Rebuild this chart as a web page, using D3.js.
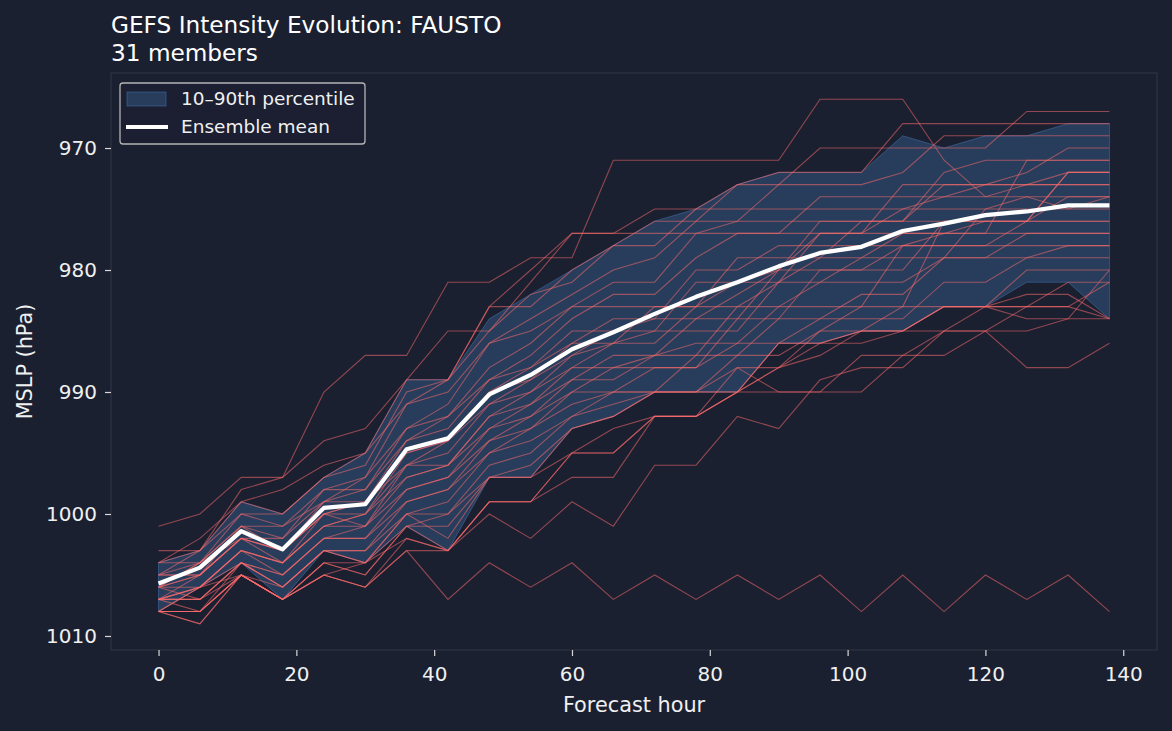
<!DOCTYPE html>
<html>
<head>
<meta charset="utf-8">
<script src="https://cdn.jsdelivr.net/npm/d3@7"></script>
<style>
  body { margin: 0; background: #1b2031; }
  svg text { font-family: "DejaVu Sans", sans-serif; }
</style>
</head>
<body>
<svg id="chart" width="1172" height="731"></svg>
<script>
// forecast hours (every 6h)
const hours = [0, 6, 12, 18, 24, 30, 36, 42, 48, 54, 60, 66, 72, 78, 84, 90, 96, 102, 108, 114, 120, 126, 132, 138];

// ensemble mean MSLP (hPa)
const meanMslp = [1005.7, 1004.4, 1001.4, 1002.9, 999.5, 999.2, 994.7, 993.8, 990.2, 988.6, 986.5, 985.1,
                  983.6, 982.2, 981.0, 979.7, 978.6, 978.1, 976.8, 976.2, 975.5, 975.2, 974.7, 974.7];

// 10th / 90th percentile edges of the band
const pctLow = [1004, 1003, 999, 1000, 997, 995, 989, 989, 984, 982, 980, 978,
                976, 975, 973, 972, 972, 972, 969, 970, 969, 969, 968, 968];
const pctHigh = [1008, 1006, 1004, 1007, 1003, 1004, 1001, 1003, 997, 997, 993, 992,
                 990, 990, 990, 986, 986, 985, 985, 983, 983, 981, 981, 984];

// 31 GEFS members
const members = [
  [1001,1000,997,997,990,987,987,981,981,979,979,971,971,971,971,971,966,966,966,971,974,974,975,975],
  [1003,1003,998,997,994,993,989,985,985,981,977,977,975,975,975,975,975,975,975,975,975,974,974,974],
  [1004,1002,999,998,996,995,989,989,983,983,980,978,976,976,973,972,972,972,968,968,968,968,968,968],
  [1004,1003,999,1000,997,995,991,989,983,980,977,977,977,977,977,977,977,977,977,977,977,977,977,977],
  [1005,1003,1000,1000,997,996,990,989,985,982,981,978,978,975,973,973,970,970,970,970,970,967,967,967],
  [1005,1004,1000,1001,998,997,991,990,986,984,982,980,979,976,976,973,973,973,972,969,969,969,969,969],
  [1004,1004,1001,1002,998,998,993,991,986,985,983,981,981,977,976,976,976,976,976,976,976,976,976,976],
  [1006,1004,1001,1001,999,997,993,992,988,986,983,983,983,983,979,979,979,976,976,972,971,971,971,971],
  [1005,1005,1001,1003,999,998,994,992,989,987,984,982,982,979,977,977,974,974,974,974,974,973,972,972],
  [1006,1004,1002,1002,999,999,994,993,989,988,985,985,985,981,981,980,977,977,973,973,973,972,970,970],
  [1007,1005,1002,1003,1000,999,995,994,990,988,986,984,984,980,980,978,978,978,978,978,978,978,978,978],
  [1005,1005,1002,1003,1000,1000,995,994,990,989,986,986,983,983,981,981,977,977,975,974,973,973,973,973],
  [1006,1005,1002,1003,1000,999,996,994,991,989,987,985,984,984,982,980,980,980,980,976,976,976,974,974],
  [1007,1006,1003,1004,1001,1000,996,995,991,990,987,986,986,983,983,981,979,979,977,977,977,971,971,971],
  [1006,1005,1002,1004,1000,1001,996,996,992,990,988,986,985,985,985,981,981,979,979,979,975,975,975,974],
  [1007,1006,1003,1004,1001,1000,997,996,992,991,988,988,987,984,984,984,980,980,978,977,976,976,972,972],
  [1006,1006,1003,1004,1001,1001,997,996,993,991,989,987,987,987,983,983,983,983,978,978,978,976,976,976],
  [1008,1006,1003,1005,1002,1001,998,997,993,992,989,989,987,986,986,983,981,981,981,979,979,977,977,977],
  [1007,1007,1004,1005,1002,1002,998,997,994,992,990,988,988,988,984,980,976,976,976,973,973,973,973,973],
  [1008,1006,1004,1005,1002,1002,999,998,994,993,990,990,990,987,987,984,984,982,982,979,979,979,978,978],
  [1007,1007,1004,1006,1003,1003,999,998,995,993,991,990,988,988,986,986,984,984,984,981,981,979,979,979],
  [1008,1008,1004,1006,1003,1003,1000,999,995,994,992,990,990,990,987,987,985,983,983,976,976,976,972,972],
  [1007,1006,1005,1006,1003,1004,1000,1000,996,995,992,991,990,990,990,986,986,985,983,983,983,983,983,981],
  [1008,1008,1005,1007,1004,1004,1001,1000,997,996,993,992,990,990,988,988,986,985,985,983,983,980,980,980],
  [1008,1009,1005,1007,1004,1005,1001,1001,997,997,995,993,992,992,990,986,986,986,985,985,983,983,981,981],
  [1007,1007,1005,1007,1005,1004,1002,1003,999,999,995,995,992,992,990,988,987,985,985,983,983,982,982,984],
  [1008,1008,1005,1007,1005,1006,1003,1003,999,999,997,997,992,992,988,990,990,990,987,987,985,985,984,984],
  [1008,1009,1005,1007,1005,1006,1002,1003,999,999,995,995,992,992,990,990,990,987,987,985,985,983,983,984],
  [1006,1007,1004,1006,1003,1004,1000,1002,997,997,993,992,990,990,990,988,985,985,985,983,983,984,984,980],
  [1007,1008,1005,1007,1004,1005,1001,1003,1000,1002,999,1001,996,996,992,993,989,988,988,985,985,988,988,986],
  [1008,1008,1005,1007,1005,1006,1003,1007,1004,1006,1004,1007,1005,1007,1005,1007,1005,1008,1005,1008,1005,1007,1005,1008]
];

const xTicks = [0, 20, 40, 60, 80, 100, 120, 140];
const yTicks = [970, 980, 990, 1000, 1010];

const titleText = "GEFS Intensity Evolution: FAUSTO";
const subtitleText = members.length + " members";

const bg = "#1b2031";
const bandColor = "#4a80c0";
const memberColor = "#ff6b6b";
const textColor = "#f0f0f0";

const plotBox = { left: 111, right: 1157, top: 73, bottom: 650 };

const svg = d3.select("#chart");
svg.append("rect").attr("width", 1172).attr("height", 731).attr("fill", bg);

// matplotlib-style 5% margins
const xPad = (d3.max(hours) - d3.min(hours)) * 0.05;
const allVals = members.flat();
const yPad = (d3.max(allVals) - d3.min(allVals)) * 0.05;

const x = d3.scaleLinear()
    .domain([d3.min(hours) - xPad, d3.max(hours) + xPad])
    .range([plotBox.left, plotBox.right]);

// low pressure at the top
const y = d3.scaleLinear()
    .domain([d3.min(allVals) - yPad, d3.max(allVals) + yPad])
    .range([plotBox.top, plotBox.bottom]);

// band
const area = d3.area()
    .x((d, i) => x(hours[i]))
    .y0((d, i) => y(pctLow[i]))
    .y1((d, i) => y(pctHigh[i]));

svg.append("path")
    .datum(hours)
    .attr("d", area)
    .attr("fill", bandColor)
    .attr("fill-opacity", 0.3)
    .attr("stroke", bandColor)
    .attr("stroke-opacity", 0.45)
    .attr("stroke-width", 1);

const line = d3.line()
    .x((d, i) => x(hours[i]))
    .y(d => y(d));

svg.append("g")
    .selectAll("path")
    .data(members)
    .join("path")
    .attr("d", line)
    .attr("fill", "none")
    .attr("stroke", memberColor)
    .attr("stroke-opacity", 0.52)
    .attr("stroke-width", 1.1);

svg.append("path")
    .datum(meanMslp)
    .attr("d", line)
    .attr("fill", "none")
    .attr("stroke", "#ffffff")
    .attr("stroke-width", 4.2)
    .attr("stroke-linejoin", "round");

// spines
svg.append("rect")
    .attr("x", plotBox.left).attr("y", plotBox.top)
    .attr("width", plotBox.right - plotBox.left)
    .attr("height", plotBox.bottom - plotBox.top)
    .attr("fill", "none")
    .attr("stroke", "#2e3444")
    .attr("stroke-width", 1.2);

// axes
const xAxis = svg.append("g")
    .attr("transform", `translate(0,${plotBox.bottom})`)
    .call(d3.axisBottom(x).tickValues(xTicks).tickFormat(d3.format("d")).tickSize(6).tickPadding(11));

const yAxis = svg.append("g")
    .attr("transform", `translate(${plotBox.left},0)`)
    .call(d3.axisLeft(y).tickValues(yTicks).tickFormat(d3.format("d")).tickSize(6).tickPadding(8));

[xAxis, yAxis].forEach(g => {
    g.select(".domain").remove();
    g.selectAll(".tick line").attr("stroke", "#d8d8d8").attr("stroke-width", 1.2);
    g.selectAll(".tick text")
        .attr("fill", textColor)
        .style("font-size", "20px");
});

svg.append("text")
    .attr("x", (plotBox.left + plotBox.right) / 2)
    .attr("y", 712)
    .attr("text-anchor", "middle")
    .attr("fill", textColor)
    .style("font-size", "20.8px")
    .text("Forecast hour");

svg.append("text")
    .attr("transform", `translate(32,${(plotBox.top + plotBox.bottom) / 2}) rotate(-90)`)
    .attr("text-anchor", "middle")
    .attr("fill", textColor)
    .style("font-size", "20.8px")
    .text("MSLP (hPa)");

// title
svg.append("text")
    .attr("x", plotBox.left).attr("y", 33)
    .attr("fill", "#ffffff")
    .style("font-size", "23.2px")
    .text(titleText);

svg.append("text")
    .attr("x", plotBox.left).attr("y", 61)
    .attr("fill", "#ffffff")
    .style("font-size", "23.2px")
    .text(subtitleText);

// legend
const legend = svg.append("g");
legend.append("rect")
    .attr("x", 120).attr("y", 83)
    .attr("width", 245).attr("height", 61)
    .attr("rx", 3)
    .attr("fill", bg)
    .attr("fill-opacity", 0.85)
    .attr("stroke", "#b4b4b4")
    .attr("stroke-width", 1.3);

legend.append("rect")
    .attr("x", 127).attr("y", 92)
    .attr("width", 39).attr("height", 14)
    .attr("fill", bandColor)
    .attr("fill-opacity", 0.3)
    .attr("stroke", bandColor)
    .attr("stroke-opacity", 0.45);

legend.append("line")
    .attr("x1", 126).attr("x2", 168)
    .attr("y1", 127).attr("y2", 127)
    .attr("stroke", "#ffffff")
    .attr("stroke-width", 4.2);

legend.append("text")
    .attr("x", 181).attr("y", 105)
    .attr("fill", textColor)
    .style("font-size", "18.5px")
    .text("10–90th percentile");

legend.append("text")
    .attr("x", 181).attr("y", 133)
    .attr("fill", textColor)
    .style("font-size", "18.5px")
    .text("Ensemble mean");
</script>
</body>
</html>
